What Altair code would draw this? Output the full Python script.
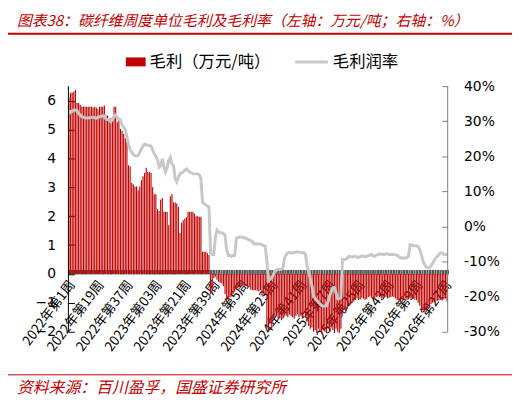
import altair as alt
import pandas as pd

# ---------------- data ----------------
years = [2022, 2023, 2024, 2025, 2026]
weeks_per_year = [52, 52, 52, 52, 28]
week_labels = []
for yr, n in zip(years, weeks_per_year):
    for w in range(1, n + 1):
        ws = f"{w:02d}" if yr == 2023 else str(w)
        week_labels.append(f"{yr}年第{ws}周")

# 毛利（万元/吨）
margin = [
    6.11, 6.27, 6.27, 6.31, 6.37, 5.92, 5.92, 5.86, 5.80, 5.79,
    5.79, 5.79, 5.79, 5.79, 5.79, 5.75, 5.79, 5.75, 5.70, 5.79,
    5.79, 5.79, 5.83, 5.48, 5.48, 5.33, 5.40, 5.33, 5.79, 5.79,
    5.25, 5.30, 5.02, 4.96, 4.85, 4.70, 4.56, 3.76, 3.72, 3.15,
    3.10, 3.03, 3.03, 2.90, 3.03, 3.24, 3.38, 3.49, 3.68, 3.53,
    3.53, 3.49, 3.01, 2.76, 2.76, 2.24, 2.18, 2.57, 2.63, 2.15,
    2.15, 2.15, 1.69, 2.69, 2.76, 2.47, 2.47, 2.44, 2.32, 1.42,
    1.77, 1.86, 1.92, 1.96, 2.15, 2.15, 2.15, 2.15, 2.09, 2.00,
    2.00, 1.98, 1.98, 0.77, 0.77, 0.77, 0.72, 0.66, -0.70, -0.60,
    -0.15, -0.10, -0.20, -0.28, -0.30, -0.33, -0.42, -0.70, -0.90, -0.92,
    -0.80, -0.78, -0.70, -0.62, -0.54, -0.47, -0.45, -0.42, -0.41, -0.41,
    -0.42, -0.43, -0.46, -0.55, -0.56, -0.56, -0.56, -0.58, -0.60, -0.55,
    -0.78, -0.65, -0.70, -1.85, -1.95, -1.70, -1.90, -1.60, -1.50, -1.45,
    -1.55, -1.50, -1.60, -1.55, -1.40, -1.45, -1.50, -1.40, -1.45, -1.50,
    -1.55, -1.45, -1.40, -1.50, -1.45, -1.55, -1.35, -1.50, -1.65, -1.80,
    -1.90, -1.85, -2.00, -1.95, -2.05, -1.90, -2.00, -2.05, -1.95, -2.00,
    -2.05, -1.90, -2.00, -1.85, -1.95, -2.05, -1.90, -2.00, -2.05, -1.90,
    -1.30, -1.25, -1.35, -1.20, -1.10, -1.05, -1.00, -0.95, -0.90, -0.85,
    -0.90, -0.88, -0.82, -0.85, -0.90, -0.87, -0.80, -0.78, -0.82, -0.85,
    -0.88, -0.80, -0.78, -0.80, -0.85, -0.82, -0.78, -0.80, -0.85, -0.82,
    -0.80, -0.78, -0.80, -0.85, -0.90, -0.92, -0.95, -0.90, -0.88, -0.85,
    -0.90, -0.88, -0.85, -0.82, -0.85, -0.88, -0.90, -1.00, -1.10, -1.20,
    -1.25, -1.30, -1.25, -1.20, -1.10, -1.05, -1.00, -0.98, -0.95, -0.92,
    -0.90, -0.90, -0.92, -0.88, -0.85, -0.95,
]

# 毛利润率（%）
margin_rate = [
    32.1, 32.8, 32.8, 33.2, 33.2, 33.0, 32.2, 31.8, 31.3, 31.1,
    31.0, 30.9, 30.9, 31.0, 31.1, 31.1, 31.0, 30.9, 31.1, 31.3,
    31.4, 31.5, 31.5, 30.6, 30.5, 30.4, 29.9, 30.6, 31.4, 31.8,
    30.9, 30.6, 30.4, 29.0, 28.3, 27.6, 25.7, 23.4, 22.0, 21.1,
    20.5, 20.2, 20.1, 20.2, 21.2, 22.1, 22.9, 23.5, 23.3, 23.2,
    23.0, 22.9, 21.8, 20.7, 20.0, 19.0, 16.9, 17.3, 19.3, 16.9,
    15.5, 16.9, 18.8, 19.7, 17.8, 17.3, 13.6, 12.7, 14.0, 15.0,
    15.3, 15.5, 16.0, 16.4, 16.0, 15.5, 15.3, 15.0, 15.0, 15.0,
    15.0, 14.7, 13.5, 7.0, 6.5, 6.2, 5.8, 5.6, -7.6, -8.0,
    -8.0, -3.0, -1.0, -1.5, -1.8, -1.8, -2.0, -2.5, -6.6, -8.3,
    -8.3, -8.5, -8.3, -8.3, -3.3, -3.2, -3.0, -3.0, -3.1, -3.2,
    -3.4, -3.6, -3.8, -4.0, -4.3, -5.0, -5.0, -5.0, -5.0, -5.0,
    -5.2, -5.5, -5.6, -10.0, -15.5, -15.0, -14.6, -13.8, -12.7, -12.4,
    -12.2, -12.2, -12.2, -12.0, -8.9, -8.0, -7.5, -7.4, -7.5, -7.6,
    -7.4, -7.3, -7.2, -7.3, -7.4, -7.5, -7.5, -8.0, -11.3, -13.0,
    -15.0, -17.0, -19.8, -20.5, -21.0, -21.5, -22.0, -22.5, -22.7, -22.7,
    -22.6, -21.5, -19.8, -18.5, -17.5, -17.4, -19.0, -20.6, -20.5, -20.3,
    -9.4, -9.4, -9.4, -9.0, -8.5, -8.6, -8.7, -8.6, -8.5, -8.7,
    -8.8, -8.6, -8.4, -8.5, -8.6, -8.5, -8.3, -8.2, -8.0, -8.3,
    -8.5, -8.2, -8.0, -7.8, -7.9, -8.0, -8.0, -7.8, -7.8, -8.0,
    -8.0, -8.0, -8.0, -8.1, -8.2, -8.6, -9.0, -9.0, -9.0, -9.0,
    -8.8, -8.5, -5.2, -5.2, -5.5, -5.5, -5.5, -5.8, -6.5, -8.0,
    -9.9, -10.8, -11.5, -11.8, -11.8, -11.2, -10.5, -9.6, -9.0, -8.5,
    -8.0, -7.5, -7.6, -8.0, -8.0, -8.0,
]

left_ticks = [-2, -1, 0, 1, 2, 3, 4, 5, 6]
right_ticks = [-30, -20, -10, 0, 10, 20, 30, 40]
label_step = 18
shown_labels = week_labels[::label_step]

title_text = "图表38：碳纤维周度单位毛利及毛利率（左轴：万元/吨；右轴：%）"
source_text = "资料来源：百川盈孚，国盛证券研究所"
legend_bar = "毛利（万元/吨）"
legend_line = "毛利润率"

# ---------------- chart ----------------
df = pd.DataFrame({"week": week_labels, "margin": margin, "rate": margin_rate})
one = pd.DataFrame({"a": [0]})

W, H = 383, 248
LMIN, LMAX = -2, 6.5
RED = "#C00000"
GREY = "#C8C8C8"
CJK = "Noto Sans CJK SC"
NUM = "DejaVu Sans"

zero_px = H * LMAX / (LMAX - LMIN)   # pixel row of the left-axis zero
band_h = 4.5                          # category tick band drawn just above zero

xscale = alt.Scale(domain=week_labels, paddingInner=0.3, paddingOuter=0)
lscale = alt.Scale(domain=[LMIN, LMAX], nice=False, zero=False)
rscale = alt.Scale(domain=[-30, 40], nice=False, zero=False)

shown_js = "[" + ",".join(f"'{s}'" for s in shown_labels) + "]"

bars = alt.Chart(df).mark_bar(color=RED).encode(
    x=alt.X("week:N", scale=xscale, sort=None, title=None,
            axis=alt.Axis(values=week_labels, tickBand="extent",
                          labelExpr=f"indexof({shown_js}, datum.value) >= 0 ? datum.value : ''",
                          labelAngle=-53, offset=zero_px - band_h - H,
                          domain=False, ticks=True, tickSize=band_h,
                          tickColor="#5a5a5a", tickWidth=1.7,
                          labelFont=CJK, labelFontSize=13.5, labelColor="black",
                          labelPadding=8, labelOffset=3,
                          labelOverlap=False, labelBound=False,
                          grid=False)),
    y=alt.Y("margin:Q", scale=lscale, title=None,
            axis=alt.Axis(orient="left", values=left_ticks, grid=False,
                          offset=-6, ticks=True, tickSize=6, tickColor="black",
                          domain=False,
                          labelFont=NUM, labelFontSize=14, labelColor="black",
                          labelPadding=13)),
)

line = alt.Chart(df).mark_line(color=GREY, strokeWidth=3).encode(
    x=alt.X("week:N", scale=xscale, sort=None),
    y=alt.Y("rate:Q", scale=rscale, title=None,
            axis=alt.Axis(orient="right", values=right_ticks, grid=False,
                          offset=-6, ticks=True, tickSize=6, tickColor="#808080",
                          domain=False,
                          labelExpr="datum.value + '%'",
                          labelFont=NUM, labelFontSize=14, labelColor="black",
                          labelPadding=16)),
)

# axis lines (frame decorations)
left_line = alt.Chart(one).mark_rule(color="black", strokeWidth=1).encode(
    x=alt.value(0), y=alt.value(0), y2=alt.value(H))
right_line = alt.Chart(one).mark_rule(color="#808080", strokeWidth=1).encode(
    x=alt.value(W), y=alt.value(0), y2=alt.value(H))

# annotations (title, legend, footer)
def txt(s, x, y, size, color, font=CJK, italic=False):
    kw = dict(text=s, align="left", baseline="middle", fontSize=size,
              color=color, font=font)
    if italic:
        kw["fontStyle"] = "italic"
    return alt.Chart(one).mark_text(**kw).encode(x=alt.value(x), y=alt.value(y))

title = txt(title_text, -52, -66, 15, RED, italic=True)
title_rule = alt.Chart(one).mark_rule(color=RED, strokeWidth=2).encode(
    x=alt.value(-64), x2=alt.value(448), y=alt.value(-53))
foot_rule = alt.Chart(one).mark_rule(color=RED, strokeWidth=1).encode(
    x=alt.value(-64), x2=alt.value(448), y=alt.value(291.5))
footer = txt(source_text, -52, 304.5, 16, RED, italic=True)

leg_rect = alt.Chart(one).mark_rect(color=RED).encode(
    x=alt.value(58), x2=alt.value(78), y=alt.value(-29), y2=alt.value(-20))
leg_t1 = txt(legend_bar, 82, -24.5, 16.5, "black")
leg_line = alt.Chart(one).mark_rule(color=GREY, strokeWidth=3).encode(
    x=alt.value(229), x2=alt.value(262), y=alt.value(-24.5))
leg_t2 = txt(legend_line, 267, -24.5, 16.5, "black")

chart = alt.layer(
    bars, line, left_line, right_line,
    title, title_rule, foot_rule, footer,
    leg_rect, leg_t1, leg_line, leg_t2,
).resolve_scale(y="independent").properties(
    width=W, height=H,
    padding={"left": 61, "top": 77, "right": 70, "bottom": 66},
    autosize=alt.AutoSizeParams(type="none"),
    background="white",
).configure_view(stroke=None)

chart.save("out.html", embed_options={"renderer": "svg", "actions": False})
